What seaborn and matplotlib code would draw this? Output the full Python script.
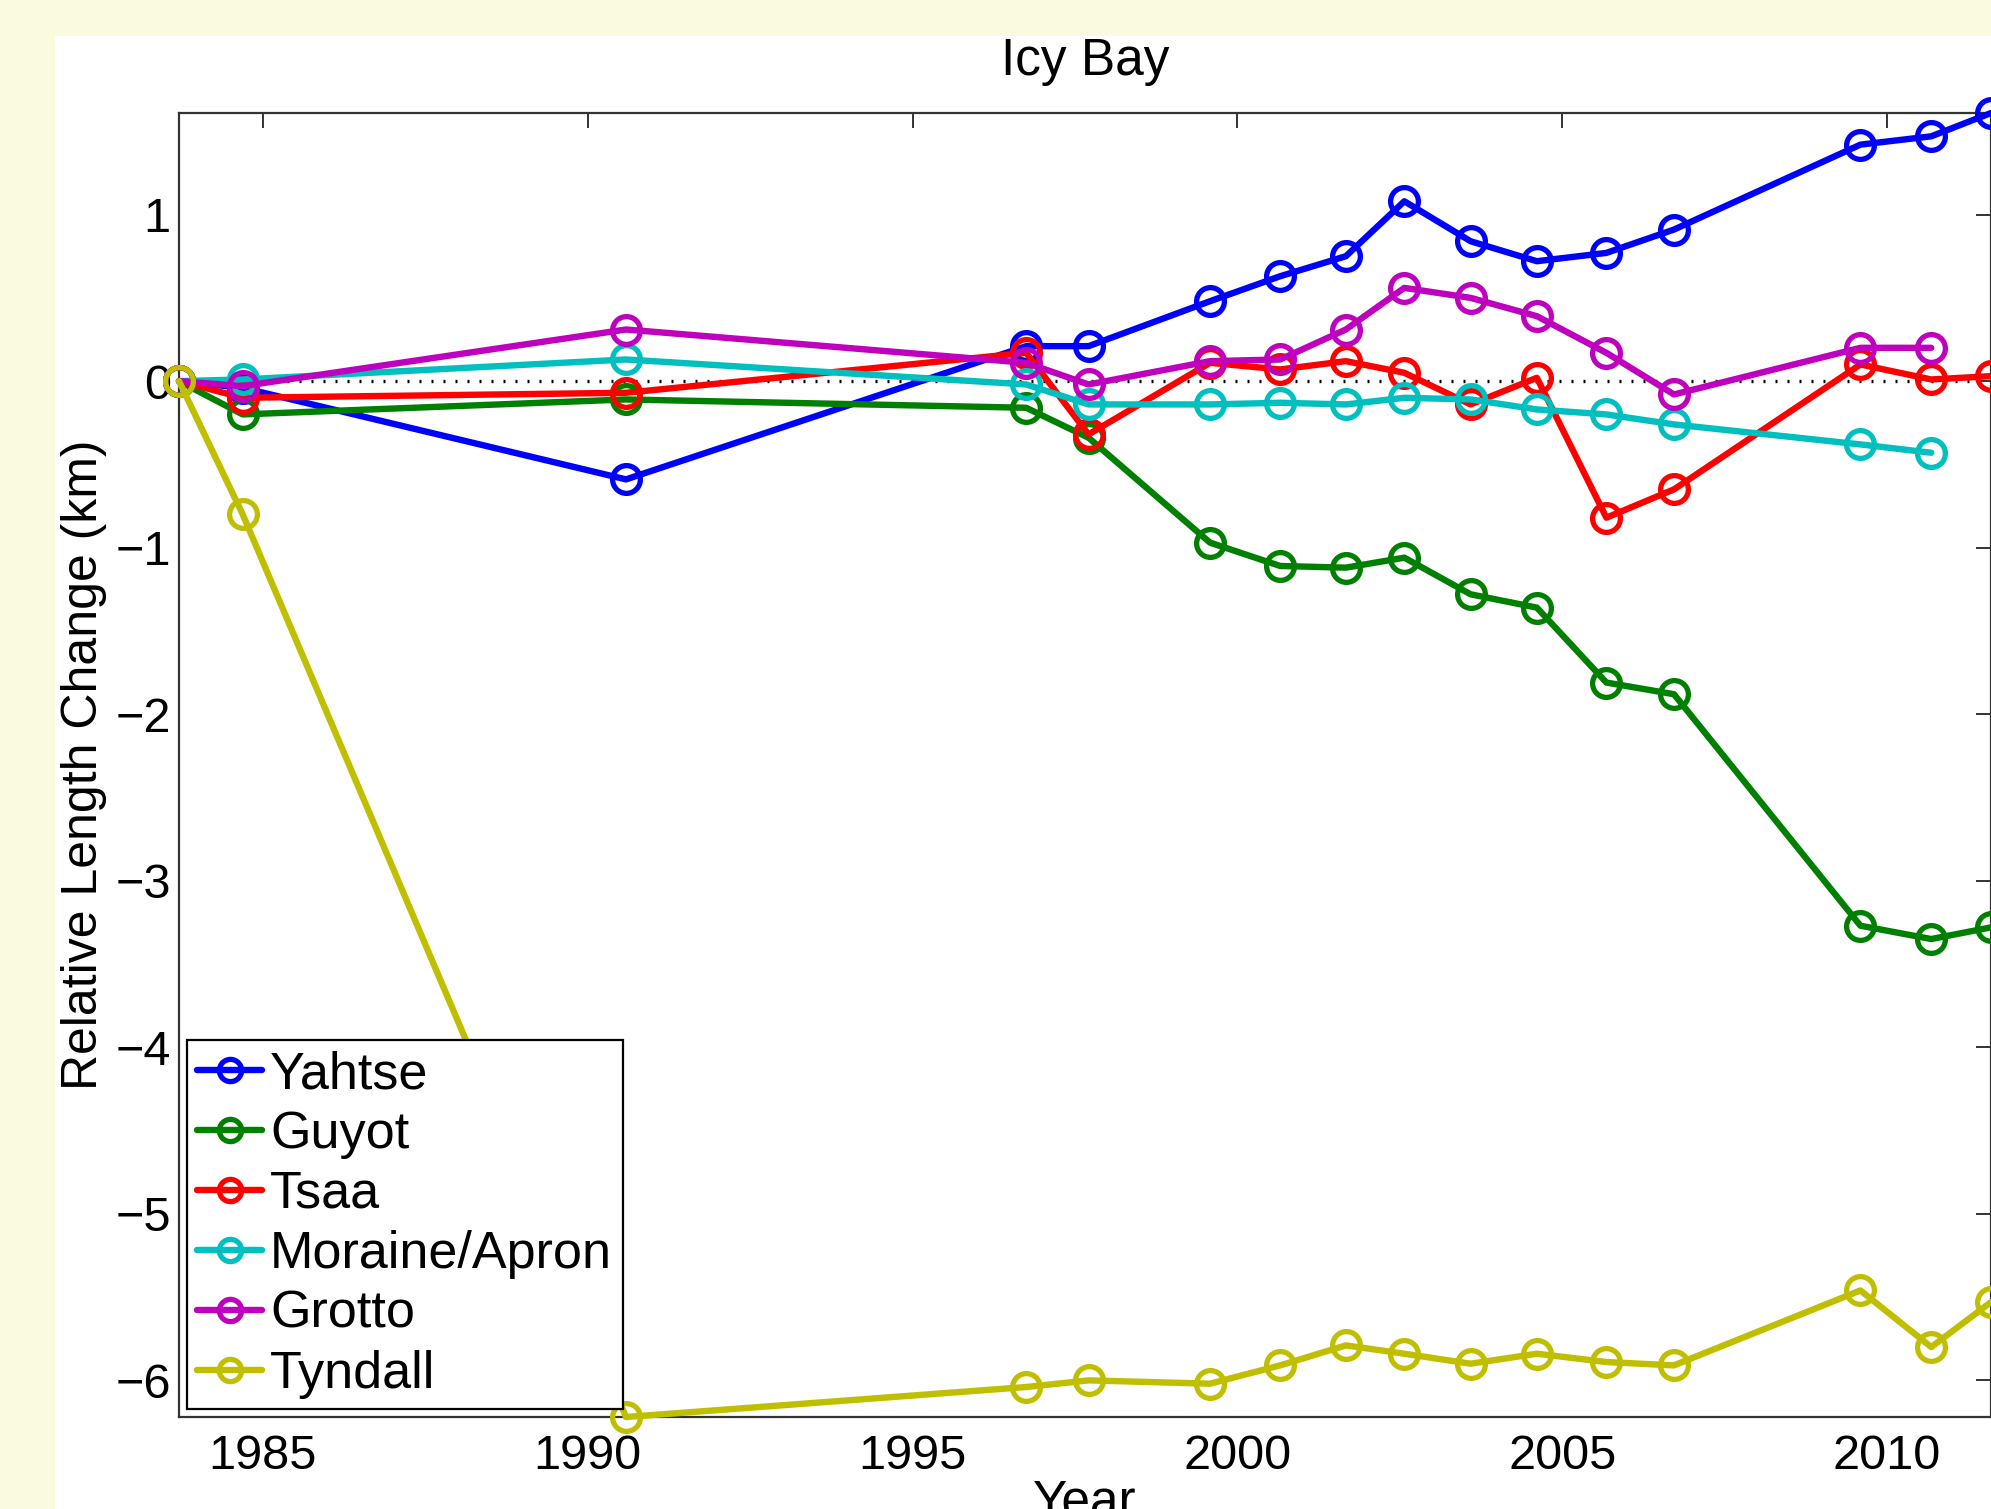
import matplotlib
matplotlib.use("Agg")
import matplotlib.pyplot as plt
import seaborn as sns
import numpy as np
import pandas as pd
from matplotlib.patches import Rectangle

# ---- data ----
years_all = [1983.71, 1984.69, 1990.59, 1996.75, 1997.71, 1999.58, 2000.66, 2001.67,
             2002.57, 2003.59, 2004.61, 2005.68, 2006.72, 2009.59, 2010.68, 2011.60]
years_moraine = years_all[:15]
years_grotto = years_all[:15]

yahtse = [0.0, -0.04, -0.59, 0.21, 0.21, 0.48, 0.63, 0.75, 1.08, 0.84, 0.72, 0.77, 0.91, 1.42, 1.47, 1.61]
guyot = [0.0, -0.20, -0.11, -0.16, -0.34, -0.97, -1.11, -1.12, -1.06, -1.28, -1.36, -1.81, -1.88, -3.27, -3.35, -3.28]
tsaa = [0.0, -0.10, -0.07, 0.17, -0.32, 0.11, 0.07, 0.12, 0.05, -0.14, 0.02, -0.82, -0.65, 0.10, 0.01, 0.03]
moraine = [0.0, 0.01, 0.13, -0.02, -0.14, -0.14, -0.13, -0.14, -0.10, -0.11, -0.17, -0.20, -0.26, -0.38, -0.43]
grotto = [0.0, -0.03, 0.31, 0.11, -0.02, 0.12, 0.13, 0.31, 0.56, 0.50, 0.39, 0.17, -0.08, 0.20, 0.20]
tyndall = [0.0, -0.80, -6.22, -6.04, -6.00, -6.02, -5.91, -5.79, -5.84, -5.90, -5.84, -5.89, -5.91, -5.46, -5.80, -5.53]

series_names = ["Yahtse", "Guyot", "Tsaa", "Moraine/Apron", "Grotto", "Tyndall"]
series_years = [years_all, years_all, years_all, years_moraine, years_grotto, years_all]
series_vals = [yahtse, guyot, tsaa, moraine, grotto, tyndall]
series_colors = [(0, 0, 1), (0, 0.5, 0), (1, 0, 0), (0, 0.75, 0.75), (0.75, 0, 0.75), (0.75, 0.75, 0)]

xticks = [1985, 1990, 1995, 2000, 2005, 2010]
yticks = [-6, -5, -4, -3, -2, -1, 0, 1]

# ---- figure ----
sns.set_style("white")
plt.rcParams['font.family'] = ['Liberation Sans', 'DejaVu Sans']
plt.rcParams['text.color'] = 'black'
plt.rcParams['axes.labelcolor'] = 'black'
plt.rcParams['xtick.color'] = 'black'
plt.rcParams['ytick.color'] = 'black'

W, H = 1991, 1509
fig = plt.figure(figsize=(W / 100, H / 100), dpi=100)
fig.patch.set_facecolor('#FAFADE')
bg = Rectangle((55 / W, 0), 1 - 55 / W, 1 - 36 / H, transform=fig.transFigure,
               facecolor='white', edgecolor='none', zorder=-10)
fig.add_artist(bg)

ax_l, ax_r, ax_t, ax_b = 179, 1991, 113, 1417
ax = fig.add_axes([ax_l / W, 1 - ax_b / H, (ax_r - ax_l) / W, (ax_b - ax_t) / H])
ax.set_zorder(1)
ax.set_facecolor('white')

for name, xs, vs, col in zip(series_names, series_years, series_vals, series_colors):
    df = pd.DataFrame({"Year": xs, "Change": vs})
    sns.lineplot(data=df, x="Year", y="Change", ax=ax, color=col, linewidth=4.6,
                 marker='o', markersize=20, markerfacecolor='none',
                 markeredgecolor=col, markeredgewidth=3.8, label=name,
                 clip_on=False, zorder=3)

ax.axhline(0, color='black', lw=2.4, linestyle=(0, (0.6, 3.0)), zorder=2)

ax.set_xlim(1983.71, 2011.60)
ax.set_ylim(-6.22, 1.61)
ax.set_xticks(xticks)
ax.set_yticks(yticks)
ax.set_yticklabels([str(t).replace('-', '\u2212') for t in yticks])

ax.tick_params(axis='both', which='major', direction='in', length=11, width=1.4,
               color='#333333', labelcolor='black', labelsize=35, top=True, right=True)
ax.tick_params(axis='x', pad=12)
ax.tick_params(axis='y', pad=6)
for s in ax.spines.values():
    s.set_color('#333333')
    s.set_linewidth(1.6)

ax.set_title("Icy Bay", fontsize=37, pad=27, color='black')
ax.set_xlabel("Year", fontsize=37, labelpad=0, color='black')
ax.set_ylabel("Relative Length Change (km)", fontsize=36, labelpad=6, color='black')

leg = ax.legend(loc='lower left', fontsize=37.5, frameon=True, fancybox=False,
                framealpha=1, edgecolor='black', borderaxespad=0.15,
                handlelength=1.25, handletextpad=0.15, labelspacing=0.21,
                borderpad=0.2, markerscale=0.8)
leg.get_frame().set_linewidth(1.6)
leg.set_zorder(10)

fig.savefig("out.png", dpi=100, facecolor=fig.get_facecolor())
